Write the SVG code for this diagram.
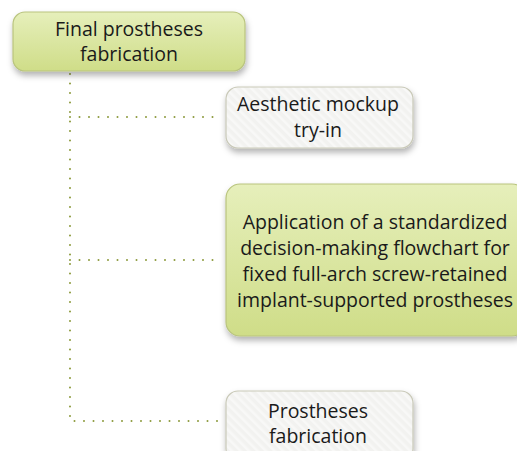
<svg xmlns="http://www.w3.org/2000/svg" width="517" height="451" viewBox="0 0 517 451">
  <style>
    .lbl { font-family: "Open Sans", "Liberation Sans", sans-serif; font-size: 19.5px; fill: #1a1a1a; text-anchor: middle; }
    .green { fill: url(#greenFill); stroke: #b9c47e; stroke-width: 1.2; filter: url(#shadow); }
    .grey { fill: url(#stripes); stroke: #c9c9b8; stroke-width: 1.2; filter: url(#shadow); }
    .conn { fill: none; stroke: #8c9a3c; stroke-width: 2; stroke-linecap: round; stroke-dasharray: 0 9.5; }
  </style>
  <defs>
    <linearGradient id="greenFill" x1="0" y1="0" x2="0" y2="1">
      <stop offset="0" stop-color="#e6efbb"/>
      <stop offset="1" stop-color="#cfdd88"/>
    </linearGradient>
    <pattern id="stripes" width="6" height="6" patternUnits="userSpaceOnUse" patternTransform="rotate(-45)">
      <rect width="6" height="6" fill="#f2f2f0"/>
      <rect width="2.5" height="6" fill="#f8f8f7"/>
    </pattern>
    <filter id="shadow" x="-10%" y="-10%" width="125%" height="135%">
      <feDropShadow dx="1" dy="4" stdDeviation="3" flood-color="#000" flood-opacity="0.3"/>
    </filter>
  </defs>

  <!-- dotted tree connectors -->
  <g id="connectors">
    <path class="conn" d="M70 74 V421 H222"/>
    <path class="conn" d="M70 117 H222"/>
    <path class="conn" d="M70 260 H222"/>
  </g>

  <g id="node-final">
    <rect class="green" x="13" y="12" width="232" height="59" rx="12"/>
    <text class="lbl" x="129" y="36">Final prostheses</text>
    <text class="lbl" x="129" y="61">fabrication</text>
  </g>

  <g id="node-mockup">
    <rect class="grey" x="226" y="87" width="187" height="61" rx="12"/>
    <text class="lbl" x="318" y="111">Aesthetic mockup</text>
    <text class="lbl" x="318" y="137">try-in</text>
  </g>

  <g id="node-flowchart">
    <rect class="green" x="226" y="184" width="300" height="152" rx="14"/>
    <text class="lbl" x="375" y="229">Application of a standardized</text>
    <text class="lbl" x="375" y="255">decision-making flowchart for</text>
    <text class="lbl" x="375" y="281">fixed full-arch screw-retained</text>
    <text class="lbl" x="375" y="307">implant-supported prostheses</text>
  </g>

  <g id="node-fabrication">
    <rect class="grey" x="226" y="391" width="187" height="70" rx="12"/>
    <text class="lbl" x="318" y="418">Prostheses</text>
    <text class="lbl" x="318" y="443">fabrication</text>
  </g>
</svg>
